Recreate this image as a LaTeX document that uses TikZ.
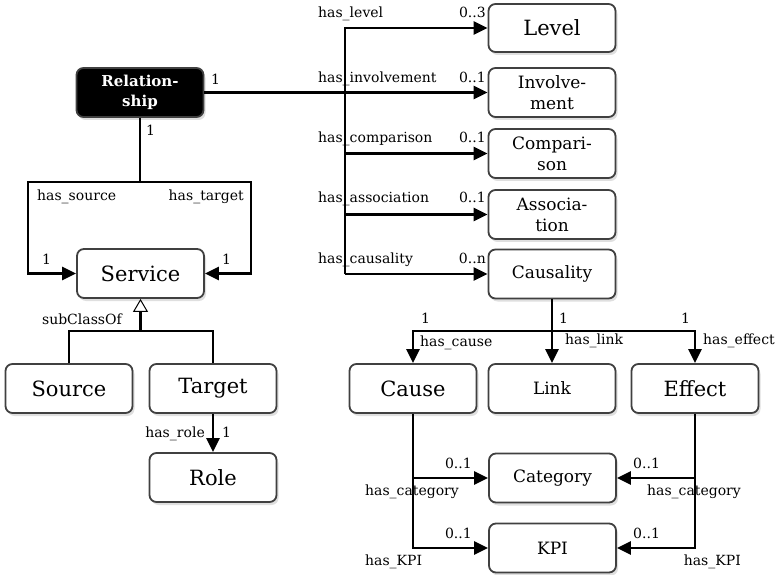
\documentclass[tikz,border=0pt]{standalone}
\usepackage{fontspec}
\setmainfont{DejaVu Serif}
\usetikzlibrary{arrows.meta,shadows}

\begin{document}
\begin{tikzpicture}[
  x=1pt, y=-1pt,
  cls/.style={draw=black!75, line width=1.8pt, rounded corners=7pt, fill=white, align=center,
    minimum width=127pt, minimum height=49pt, inner sep=0pt,
    drop shadow={shadow xshift=2pt, shadow yshift=-3pt, opacity=0.25}},
  relbox/.style={cls, fill=black, text=white, font=\bfseries\fontsize{15}{20}\selectfont},
  big/.style={font=\fontsize{21}{24}\selectfont},
  mid/.style={font=\fontsize{17}{21}\selectfont},
  lbl/.style={font=\fontsize{14}{16}\selectfont, inner sep=0pt},
  line/.style={line width=2.4pt},
  arr/.style={line, -{Triangle[length=14pt,width=13pt]}},
  gen/.style={line, -{Triangle[open,length=13pt,width=15pt,line width=1pt]}},
]
\useasboundingbox (0,0) rectangle (780,575);

% classes, left part
\node[relbox] (rel) at (140,92.5) {Relation-\\ship};
\node[cls, big] (svc) at (140.5,273.5) {Service};
\node[cls, big] (src) at (69,388.5) {Source};
\node[cls, big] (tgt) at (213,388.5) {Target};
\node[cls, big] (role) at (213,477.5) {Role};

% classes, right part
\node[cls, big, minimum height=48pt] (lvl) at (552,28) {Level};
\node[cls, mid] (inv) at (552,92.5) {Involve-\\ment};
\node[cls, mid] (cmp) at (552,153.5) {Compari-\\son};
\node[cls, mid] (asc) at (552,214.5) {Associa-\\tion};
\node[cls, mid] (cau) at (552,274) {Causality};
\node[cls, big] (cse) at (413,388.5) {Cause};
\node[cls, mid] (lnk) at (552,388.5) {Link};
\node[cls, big] (eff) at (695,388.5) {Effect};
\node[cls, mid] (cat) at (552.5,478) {Category};
\node[cls, mid] (kpi) at (552.5,548) {KPI};

% Relationship -> right column
\coordinate (bus) at (345,28);
\draw[arr] (bus |- cau.west) -- (bus) -- (lvl.west);
\draw[arr] (rel.east) -- (inv.west);
\draw[arr] (bus |- cmp.west) -- (cmp.west);
\draw[arr] (bus |- asc.west) -- (asc.west);
\draw[arr] (bus |- cau.west) -- (cau.west);
\node[lbl, anchor=base west] (relmult) at (211,85) {1};
\node[lbl, anchor=base west] (lvlname) at (318,18) {has\_level};
\node[lbl, anchor=base east] (lvlmult) at (486,18) {0..3};
\node[lbl, anchor=base west] (invname) at (318,83) {has\_involvement};
\node[lbl, anchor=base east] (invmult) at (486,83) {0..1};
\node[lbl, anchor=base west] (cmpname) at (318,143) {has\_comparison};
\node[lbl, anchor=base east] (cmpmult) at (486,143) {0..1};
\node[lbl, anchor=base west] (ascname) at (318,203) {has\_association};
\node[lbl, anchor=base east] (ascmult) at (486,203) {0..1};
\node[lbl, anchor=base west] (cauname) at (318,263) {has\_causality};
\node[lbl, anchor=base east] (caumult) at (486,263) {0..n};

% Relationship -> Service (source / target)
\coordinate (relfork) at (140,182);
\coordinate (srcturn) at (28,182);
\coordinate (tgtturn) at (251,182);
\draw[line] (rel.south) -- (relfork);
\draw[arr] (relfork) -- (srcturn) |- (svc.west);
\draw[arr] (relfork) -- (tgtturn) |- (svc.east);
\node[lbl, anchor=base west] (relmultb) at (146,136) {1};
\node[lbl, anchor=base west] (srcname) at (37,201) {has\_source};
\node[lbl, anchor=base east] (tgtname) at (244,201) {has\_target};
\node[lbl, anchor=base west] (srcmult) at (42,265) {1};
\node[lbl, anchor=base west] (tgtmult) at (222,265) {1};

% subclasses of Service
\coordinate (scfork) at (140.5,331);
\draw[gen] (scfork) -- (svc.south);
\draw[line] (src.north) |- (scfork) -| (tgt.north);
\node[lbl, anchor=base east] (scname) at (122,324) {subClassOf};
\draw[arr] (tgt.south) -- (role.north);
\node[lbl, anchor=base east] (rolename) at (205,437) {has\_role};
\node[lbl, anchor=base west] (rolemult) at (222,437) {1};

% Causality -> Cause / Link / Effect
\coordinate (caufork) at (552,331);
\draw[line] (cau.south) -- (caufork);
\draw[arr] (caufork) -| (cse.north);
\draw[arr] (caufork) -- (lnk.north);
\draw[arr] (caufork) -| (eff.north);
\node[lbl, anchor=base west] (csemult) at (421,323) {1};
\node[lbl, anchor=base west] (lnkmult) at (559,323) {1};
\node[lbl, anchor=base west] (effmult) at (681,323) {1};
\node[lbl, anchor=base west] (csename) at (420,346) {has\_cause};
\node[lbl, anchor=base west] (lnkname) at (565,344) {has\_link};
\node[lbl, anchor=base west] (effname) at (703,344) {has\_effect};

% Cause / Effect -> Category / KPI
\draw[arr] (cse.south) |- (kpi.west);
\draw[arr] (cse.south |- cat.west) -- (cat.west);
\draw[arr] (eff.south) |- (kpi.east);
\draw[arr] (eff.south |- cat.east) -- (cat.east);
\node[lbl, anchor=base east] (catmultl) at (472,468) {0..1};
\node[lbl, anchor=base west] (catnamel) at (365,495) {has\_category};
\node[lbl, anchor=base east] (kpimultl) at (472,538) {0..1};
\node[lbl, anchor=base west] (kpinamel) at (365,565) {has\_KPI};
\node[lbl, anchor=base west] (catmultr) at (633,468) {0..1};
\node[lbl, anchor=base west] (catnamer) at (647,495) {has\_category};
\node[lbl, anchor=base west] (kpimultr) at (633,538) {0..1};
\node[lbl, anchor=base east] (kpinamer) at (741,565) {has\_KPI};
\end{tikzpicture}
\end{document}
